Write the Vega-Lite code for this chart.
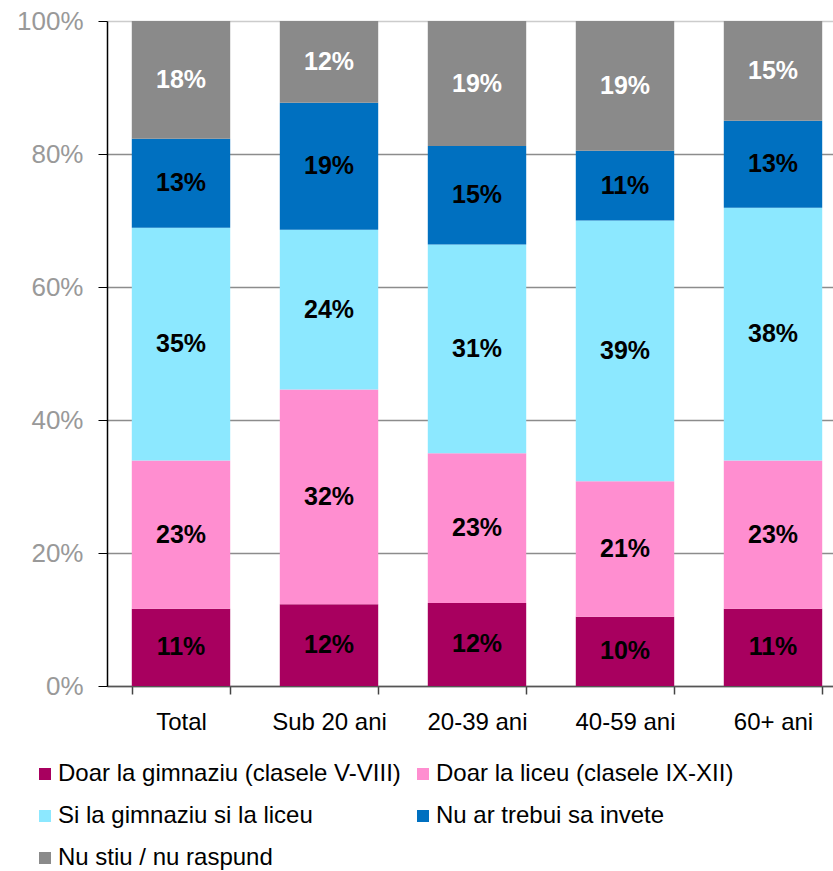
{
  "$schema": "https://vega.github.io/schema/vega-lite/v6.json",
  "autosize": {"type": "none"},
  "padding": {"left": 107, "top": 21, "right": 0, "bottom": 185},
  "width": 726,
  "height": 665,
  "background": "white",
  "config": {
    "font": "Liberation Sans",
    "view": {"stroke": null}
  },
  "data": {
    "values": [
      {"grupa": "Total", "cat": "Doar la gimnaziu (clasele V-VIII)", "k": 1, "v": 11.6, "label": "11%"},
      {"grupa": "Total", "cat": "Doar la liceu (clasele IX-XII)", "k": 2, "v": 22.3, "label": "23%"},
      {"grupa": "Total", "cat": "Si la gimnaziu si la liceu", "k": 3, "v": 35.0, "label": "35%"},
      {"grupa": "Total", "cat": "Nu ar trebui sa invete", "k": 4, "v": 13.4, "label": "13%"},
      {"grupa": "Total", "cat": "Nu stiu / nu raspund", "k": 5, "v": 17.7, "label": "18%"},
      {"grupa": "Sub 20 ani", "cat": "Doar la gimnaziu (clasele V-VIII)", "k": 1, "v": 12.3, "label": "12%"},
      {"grupa": "Sub 20 ani", "cat": "Doar la liceu (clasele IX-XII)", "k": 2, "v": 32.3, "label": "32%"},
      {"grupa": "Sub 20 ani", "cat": "Si la gimnaziu si la liceu", "k": 3, "v": 24.0, "label": "24%"},
      {"grupa": "Sub 20 ani", "cat": "Nu ar trebui sa invete", "k": 4, "v": 19.1, "label": "19%"},
      {"grupa": "Sub 20 ani", "cat": "Nu stiu / nu raspund", "k": 5, "v": 12.3, "label": "12%"},
      {"grupa": "20-39 ani", "cat": "Doar la gimnaziu (clasele V-VIII)", "k": 1, "v": 12.5, "label": "12%"},
      {"grupa": "20-39 ani", "cat": "Doar la liceu (clasele IX-XII)", "k": 2, "v": 22.5, "label": "23%"},
      {"grupa": "20-39 ani", "cat": "Si la gimnaziu si la liceu", "k": 3, "v": 31.4, "label": "31%"},
      {"grupa": "20-39 ani", "cat": "Nu ar trebui sa invete", "k": 4, "v": 14.8, "label": "15%"},
      {"grupa": "20-39 ani", "cat": "Nu stiu / nu raspund", "k": 5, "v": 18.8, "label": "19%"},
      {"grupa": "40-59 ani", "cat": "Doar la gimnaziu (clasele V-VIII)", "k": 1, "v": 10.4, "label": "10%"},
      {"grupa": "40-59 ani", "cat": "Doar la liceu (clasele IX-XII)", "k": 2, "v": 20.4, "label": "21%"},
      {"grupa": "40-59 ani", "cat": "Si la gimnaziu si la liceu", "k": 3, "v": 39.2, "label": "39%"},
      {"grupa": "40-59 ani", "cat": "Nu ar trebui sa invete", "k": 4, "v": 10.5, "label": "11%"},
      {"grupa": "40-59 ani", "cat": "Nu stiu / nu raspund", "k": 5, "v": 19.5, "label": "19%"},
      {"grupa": "60+ ani", "cat": "Doar la gimnaziu (clasele V-VIII)", "k": 1, "v": 11.6, "label": "11%"},
      {"grupa": "60+ ani", "cat": "Doar la liceu (clasele IX-XII)", "k": 2, "v": 22.3, "label": "23%"},
      {"grupa": "60+ ani", "cat": "Si la gimnaziu si la liceu", "k": 3, "v": 38.0, "label": "38%"},
      {"grupa": "60+ ani", "cat": "Nu ar trebui sa invete", "k": 4, "v": 13.1, "label": "13%"},
      {"grupa": "60+ ani", "cat": "Nu stiu / nu raspund", "k": 5, "v": 15.0, "label": "15%"}
    ]
  },
  "encoding": {
    "x": {
      "field": "grupa",
      "type": "nominal",
      "sort": ["Total", "Sub 20 ani", "20-39 ani", "40-59 ani", "60+ ani"],
      "scale": {"range": [0, 740], "paddingInner": 0.335, "paddingOuter": 0.1675},
      "axis": {
        "title": null,
        "labelAngle": 0,
        "labelFontSize": 24,
        "labelColor": "#000000",
        "labelPadding": 16,
        "tickBand": "extent",
        "tickSize": 8,
        "tickColor": "#444444",
        "tickWidth": 1.5,
        "domainColor": "#555555",
        "domainWidth": 1.5,
        "grid": false
      }
    },
    "y": {
      "field": "v",
      "type": "quantitative",
      "stack": "zero",
      "scale": {"domain": [0, 100], "nice": false},
      "axis": {
        "title": null,
        "values": [0, 20, 40, 60, 80, 100],
        "labelExpr": "datum.value + '%'",
        "labelFontSize": 26,
        "labelColor": "#999999",
        "labelPadding": 15,
        "tickSize": 9,
        "tickColor": "#000000",
        "domainColor": "#000000",
        "domainWidth": 1.5,
        "grid": true,
        "gridColor": {"condition": {"test": "datum.value === 100", "value": "#cccccc"}, "value": "#8c8c8c"},
        "gridWidth": 1.5
      }
    },
    "order": {"field": "k", "type": "quantitative"}
  },
  "layer": [
    {
      "mark": {"type": "bar"},
      "encoding": {
        "color": {
          "field": "cat",
          "type": "nominal",
          "sort": ["Doar la gimnaziu (clasele V-VIII)", "Doar la liceu (clasele IX-XII)", "Si la gimnaziu si la liceu", "Nu ar trebui sa invete", "Nu stiu / nu raspund"],
          "scale": {
            "domain": ["Doar la gimnaziu (clasele V-VIII)", "Doar la liceu (clasele IX-XII)", "Si la gimnaziu si la liceu", "Nu ar trebui sa invete", "Nu stiu / nu raspund"],
            "range": ["#A8005F", "#FF8ED0", "#8CE8FF", "#0070C0", "#8A8A8A"]
          },
          "legend": {
            "title": null,
            "orient": "none",
            "legendX": -74,
            "legendY": 741,
            "direction": "horizontal",
            "columns": 2,
            "columnPadding": 10,
            "rowPadding": 18,
            "symbolType": "square",
            "symbolSize": 144,
            "symbolStrokeWidth": 0,
            "labelFontSize": 24,
            "labelColor": "#000000",
            "labelOffset": 1,
            "labelLimit": 600
          }
        }
      }
    },
    {
      "mark": {"type": "text", "fontSize": 25, "fontWeight": "bold", "baseline": "middle", "align": "center"},
      "encoding": {
        "y": {"field": "v", "type": "quantitative", "stack": "zero", "bandPosition": 0.5},
        "text": {"field": "label", "type": "nominal"},
        "color": {
          "condition": {"test": "datum.k === 5", "value": "#ffffff"},
          "value": "#000000"
        }
      }
    }
  ]
}
